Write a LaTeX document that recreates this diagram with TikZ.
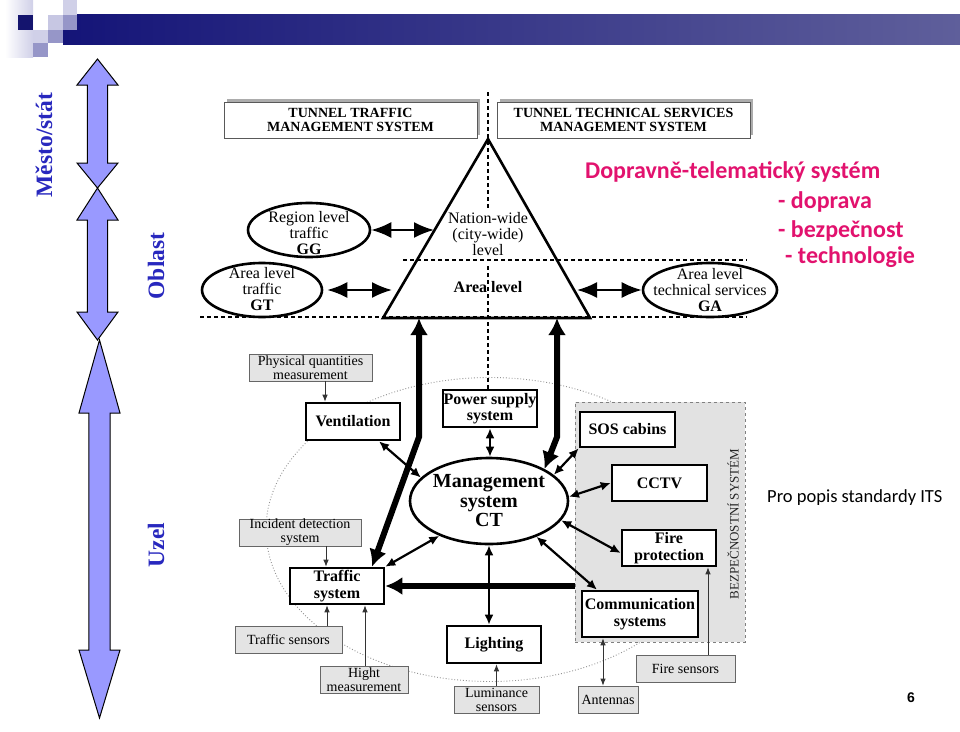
\documentclass[tikz,border=0pt]{standalone}
\usepackage{fontspec}
\setmainfont{Liberation Serif}
\newfontfamily\calib{Carlito}
\newfontfamily\arialf{Liberation Sans}
\usetikzlibrary{arrows.meta,shapes.geometric,calc}
\definecolor{lblue}{RGB}{40,40,190}
\definecolor{arrfill}{RGB}{153,153,255}
\definecolor{redtxt}{RGB}{226,18,110}
\definecolor{navy}{RGB}{20,20,110}
\definecolor{barleft}{RGB}{20,20,120}
\definecolor{barright}{RGB}{95,95,155}
\definecolor{paleL}{RGB}{208,208,232}
\definecolor{medL}{RGB}{150,150,200}
\definecolor{boxgray}{RGB}{228,228,228}
\definecolor{regiongray}{RGB}{226,226,226}
\begin{document}
\begin{tikzpicture}[x=1pt,y=-1pt,
  blkbox/.style={draw, line width=2.6pt, fill=white, inner sep=0pt, align=center, font=\bfseries\fontsize{16}{16.5}\selectfont},
  grybox/.style={draw=gray!80!black, line width=0.8pt, fill=boxgray, inner sep=0pt, align=center, font=\fontsize{14}{14}\selectfont},
  topbox/.style={draw=gray!70!black, line width=0.8pt, fill=white, minimum width=253pt, minimum height=36pt, inner sep=0pt, align=center, font=\bfseries\fontsize{14}{14}\selectfont},
  ellp/.style={draw, ellipse, line width=2.6pt, inner sep=0pt},
  etxt/.style={align=center, font=\fontsize{16}{16}\selectfont, inner sep=0pt},
  medarr/.style={line width=2.2pt, {Latex[length=10pt,width=9pt]}-{Latex[length=10pt,width=9pt]}},
  thinarr/.style={line width=0.8pt, draw=black!80, -{Latex[length=7pt,width=5.5pt]}},
  thindbl/.style={line width=0.8pt, draw=black!80, {Latex[length=7pt,width=5.5pt]}-{Latex[length=7pt,width=5.5pt]}},
  bigarr/.style={line width=6pt, -{Latex[length=17pt,width=18pt]}},
  bigdbl/.style={line width=6pt, line join=miter, {Latex[length=17pt,width=18pt]}-{Latex[length=17pt,width=18pt]}},
  trarr/.style={line width=2pt, {Latex[length=20pt,width=16pt]}-{Latex[length=20pt,width=16pt]}},
  dsh/.style={dash pattern=on 4pt off 3pt, line width=1.1pt},
  leftarr/.style={fill=arrfill, draw=black, line width=1pt, line join=miter},
  lbl/.style={text=lblue, font=\bfseries\fontsize{23.5}{23.5}\selectfont, rotate=90, inner sep=0pt},
  redt/.style={text=redtxt, font=\calib\bfseries\fontsize{24}{24}\selectfont, anchor=base west, inner sep=0pt}
]
\useasboundingbox (0,0) rectangle (960,731);

% header decoration
\shade[left color=barleft, right color=barright] (63,14) rectangle (960,44);
\shade[left color=white, right color=paleL] (5,0) rectangle (33,57);
\fill[navy] (18,15) rectangle (33,30);
\fill[paleL] (33,30) rectangle (48,43);
\fill[medL] (33,43) rectangle (48,57);
\fill[paleL!85!medL] (48,15) rectangle (63,30);
\fill[medL] (48,30) rectangle (63,43);
\fill[paleL] (63,0) rectangle (77,15);
\fill[medL] (63,15) rectangle (77,30);

% left level arrows
\draw[leftarr] (97.5,59) -- (118,85) -- (107.7,85) -- (107.7,163) -- (118,163) -- (97.5,188) -- (77,163) -- (87.3,163) -- (87.3,85) -- (77,85) -- cycle;
\draw[leftarr] (97.5,188) -- (118,220) -- (107.7,220) -- (107.7,312) -- (118,312) -- (97.5,340) -- (77,312) -- (87.3,312) -- (87.3,220) -- (77,220) -- cycle;
\draw[leftarr] (99.5,340) -- (120,413) -- (110.2,413) -- (110.2,650) -- (120,650) -- (99.5,718) -- (79,650) -- (88.8,650) -- (88.8,413) -- (79,413) -- cycle;
\node[lbl] (mesto) at (44,145) {Město/stát};
\node[lbl] (oblast) at (156,266) {Oblast};
\node[lbl] (uzel) at (156,545) {Uzel};

% dotted node-level ellipse and safety region
\draw[dotted, gray!85, line width=0.9pt] (490,529.5) ellipse [x radius=224pt, y radius=152pt];
\node[draw=gray, dashed, line width=0.9pt, fill=regiongray, minimum width=170pt, minimum height=240pt, inner sep=0pt] (bez) at (660,522) {};
\node[rotate=90, font=\fontsize{13}{13}\selectfont, text=black!85, inner sep=0pt] (beztxt) at (733,524) {BEZPEČNOSTNÍ SYSTÉM};

% top boxes
\fill[gray!65] (227,99) rectangle (480,135);
\node[topbox] (ttm) at (350.5,120) {TUNNEL TRAFFIC\\MANAGEMENT SYSTEM};
\fill[gray!65] (500,99) rectangle (753,135);
\node[topbox] (tts) at (623.5,120) {TUNNEL TECHNICAL SERVICES\\MANAGEMENT SYSTEM};

% dashed guide lines
\draw[dsh] (488,92) -- (488,208);
\draw[dsh] (488,266) -- (488,390);
\draw[dsh] (403,260) -- (747,260);
\draw[dsh] (200,317) -- (747,317);

% triangle
\coordinate (apex) at (488,139);
\coordinate (bl) at (383,318);
\coordinate (br) at (590,318);
\draw[line width=2.6pt, line join=miter] (apex) -- (bl) -- (br) -- cycle;
\node[etxt] (natw) at (488,234) {Nation-wide\\(city-wide)\\level};
\node[font=\bfseries\fontsize{16}{16}\selectfont, anchor=base, inner sep=0pt] (arealvl) at (488,292) {Area level};

% upper ellipses
\node[ellp, minimum width=122pt, minimum height=54pt] (gg) at (309,230) {};
\node[etxt] (ggtxt) at (309,233) {Region level\\traffic\\\textbf{GG}};
\node[ellp, minimum width=120pt, minimum height=54pt] (gt) at (262,290) {};
\node[etxt] (gttxt) at (262,289) {Area level\\traffic\\\textbf{GT}};
\node[ellp, minimum width=134pt, minimum height=54pt] (ga) at (710,290) {};
\node[etxt] (gatxt) at (710,290) {Area level\\technical services\\\textbf{GA}};

\coordinate (triL1) at (434,230);
\coordinate (triL2) at (392,290);
\coordinate (triR2) at (577,290);
\draw[trarr] (gg.east) -- (triL1);
\draw[trarr] ([xshift=4pt]gt.east) -- (triL2);
\draw[trarr] (triR2) -- (ga.west);

% management ellipse
\node[ellp, minimum width=158pt, minimum height=86pt] (mgmt) at (489,501) {};
\node[align=center, font=\bfseries\fontsize{20}{19.5}\selectfont, inner sep=0pt] (mgmttxt) at (489,501) {Management\\system\\CT};

% black boxes
\node[blkbox, minimum width=94pt, minimum height=37pt] (pss) at (490,408.5) {Power supply\\system};
\node[blkbox, minimum width=94pt, minimum height=37pt] (vent) at (353,421.5) {Ventilation};
\node[blkbox, minimum width=94pt, minimum height=36pt] (traf) at (337,586) {Traffic\\system};
\node[blkbox, minimum width=94pt, minimum height=37pt] (light) at (494,644.5) {Lighting};
\node[blkbox, minimum width=95pt, minimum height=35pt] (sos) at (627.5,429.5) {SOS cabins};
\node[blkbox, minimum width=95pt, minimum height=36pt] (cctv) at (659.5,483) {CCTV};
\node[blkbox, minimum width=94pt, minimum height=36pt] (fire) at (669,548) {Fire\\protection};
\node[blkbox, minimum width=116pt, minimum height=46pt] (comm) at (640,614) {Communication\\systems};

% gray boxes
\node[grybox, minimum width=123pt, minimum height=27pt] (phys) at (310.5,367.5) {Physical quantities\\measurement};
\node[grybox, minimum width=122pt, minimum height=27pt] (incid) at (300,532.5) {Incident detection\\system};
\node[grybox, minimum width=107pt, minimum height=27pt] (tsens) at (288.5,639.5) {Traffic sensors};
\node[grybox, minimum width=88pt, minimum height=27pt] (hight) at (364,679.5) {Hight\\measurement};
\node[grybox, minimum width=85pt, minimum height=27pt] (lum) at (496.5,699.5) {Luminance\\sensors};
\node[grybox, minimum width=60pt, minimum height=27pt] (ant) at (608,699.5) {Antennas};
\node[grybox, minimum width=99pt, minimum height=27pt] (fsens) at (685.5,668.5) {Fire sensors};

% thick arrows to the triangle
\coordinate (ltop) at (419,318);
\coordinate (lbend) at (419,437);
\coordinate (rtop) at (557,318);
\coordinate (rbend) at (557,437);
\draw[bigdbl] (ltop) -- (lbend) -- ([xshift=35pt]traf.north);
\draw[bigdbl] (rtop) -- (rbend) -- (mgmt.30);
\draw[bigarr] (bez.west |- traf.east) -- (traf.east);

% medium double arrows
\draw[medarr] ([xshift=26pt]vent.south) -- (mgmt.161);
\draw[medarr] (traf.north east) -- (mgmt.215);
\draw[medarr] (pss.south) -- (pss.south |- mgmt.north);
\draw[medarr] (mgmt.south) -- (mgmt.south |- light.north);
\draw[medarr] (mgmt.22) -- (sos.south west);
\draw[medarr] (mgmt.3) -- (cctv.west);
\draw[medarr] (mgmt.-15) -- ([yshift=-5pt]fire.west);
\draw[medarr] (mgmt.-37) -- ([xshift=-43pt]comm.north);

% thin sensor arrows
\draw[thinarr] ([xshift=14.5pt]phys.south) -- ([xshift=14.5pt]phys.south |- vent.north);
\draw[thinarr] ([xshift=26pt]incid.south) -- ([xshift=26pt]incid.south |- traf.north);
\draw[thinarr] ([xshift=38.5pt]tsens.north) -- ([xshift=38.5pt]tsens.north |- traf.south);
\draw[thinarr] ([xshift=1pt]hight.north) -- ([xshift=1pt]hight.north |- traf.south);
\draw[thinarr] (lum.north) -- (lum.north |- light.south);
\draw[thindbl] ([xshift=-5pt]ant.north) -- ([xshift=-5pt]ant.north |- comm.south);
\draw[thinarr] ([xshift=22.5pt]fsens.north) -- ([xshift=22.5pt]fsens.north |- fire.south);

% slide texts
\node[redt] (t1) at (585,178) {Dopravně-telematický systém};
\node[redt] (t2) at (778,208) {- doprava};
\node[redt] (t3) at (778,237) {- bezpečnost};
\node[redt] (t4) at (785,263) {- technologie};
\node[font=\calib\fontsize{18.5}{19}\selectfont, anchor=base west, inner sep=0pt] (popis) at (767,502) {Pro popis standardy ITS};
\node[font=\arialf\bfseries\fontsize{14}{14}\selectfont, inner sep=0pt] (pg) at (911,698) {6};
\end{tikzpicture}
\end{document}
